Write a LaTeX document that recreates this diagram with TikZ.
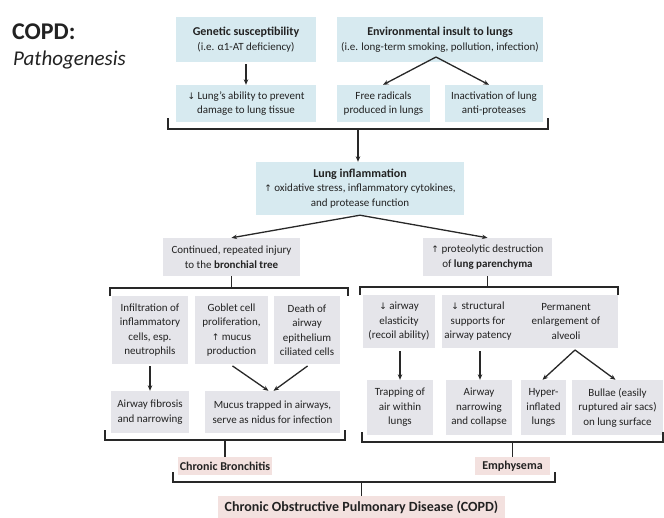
\documentclass[tikz,border=0pt]{standalone}
\usepackage{fontspec}
\setmainfont{Carlito}
\newfontfamily\symfont{DejaVu Sans}
\usetikzlibrary{arrows.meta}
\definecolor{bluebox}{RGB}{215,234,240}
\definecolor{graybox}{RGB}{229,229,234}
\definecolor{pinkbox}{RGB}{243,225,223}
\definecolor{ink}{RGB}{34,34,34}
\definecolor{linec}{RGB}{40,40,40}
\newcommand{\dnarr}{{\symfont\fontsize{9}{10}\selectfont ↓}}
\newcommand{\uparr}{{\symfont\fontsize{9}{10}\selectfont ↑}}
\newcommand{\hd}[1]{{\bfseries\fontsize{12}{14.5}\selectfont #1}}
\tikzset{
  box/.style={inner sep=0pt, align=center, text=ink, font=\fontsize{11}{14.5}\selectfont},
  bbox/.style={box, fill=bluebox},
  gbox/.style={box, fill=graybox},
  pbox/.style={box, fill=pinkbox, font=\bfseries\fontsize{12}{14}\selectfont},
  conn/.style={draw=linec, line width=1.3pt},
  arr/.style={conn, -{Stealth[length=5.5pt,width=4.5pt]}},
}
\begin{document}
\begin{tikzpicture}[x=1pt,y=-1pt]
\fill[white] (0,0) rectangle (664,517);
\useasboundingbox (0,0) rectangle (664,517);
% title
\node[anchor=base west, inner sep=0pt, text=ink, font=\bfseries\fontsize{24}{26}\selectfont] (t1) at (12,39) {COPD:};
\node[anchor=base west, inner sep=0pt, text=ink, font=\itshape\fontsize{21}{24}\selectfont] (t2) at (13,65) {Pathogenesis};
% row 1
\node[bbox, minimum width=140pt, minimum height=45pt] (gen) at (246,39.5) {\hd{Genetic susceptibility}\\(i.e. α1-AT deficiency)};
\node[bbox, minimum width=206pt, minimum height=45pt] (env) at (440,39.5) {\hd{Environmental insult to lungs}\\(i.e. long-term smoking, pollution, infection)};
% row 2
\node[bbox, minimum width=140pt, minimum height=37pt] (lung) at (246,103.5) {\dnarr{} Lung's ability to prevent\\damage to lung tissue};
\node[bbox, minimum width=93pt, minimum height=37pt] (free) at (383.5,103.5) {Free radicals\\produced in lungs};
\node[bbox, minimum width=98pt, minimum height=37pt] (inact) at (494,103.5) {Inactivation of lung\\anti-proteases};
% inflammation
\node[bbox, minimum width=208pt, minimum height=53pt] (infl) at (360,188.5) {\hd{Lung inflammation}\\\uparr{} oxidative stress, inflammatory cytokines,\\and protease function};
% level 2
\node[gbox, minimum width=137pt, minimum height=38pt] (cont) at (231.5,257) {Continued, repeated injury\\to the \textbf{bronchial tree}};
\node[gbox, minimum width=129pt, minimum height=38pt] (prot) at (487.5,257) {\uparr{} proteolytic destruction\\of \textbf{lung parenchyma}};
% level 3 left
\node[gbox, minimum width=76pt, minimum height=68pt] (infil) at (150,330) {Infiltration of\\inflammatory\\cells, esp.\\neutrophils};
\node[gbox, minimum width=73pt, minimum height=68pt] (goblet) at (231.5,330) {Goblet cell\\proliferation,\\\uparr{} mucus\\production};
\node[gbox, minimum width=66pt, minimum height=68pt] (death) at (307,330) {Death of\\airway\\epithelium\\ciliated cells};
% level 3 right
\node[gbox, minimum width=72pt, minimum height=53pt] (elast) at (399,321.5) {\dnarr{} airway\\elasticity\\(recoil ability)};
\node[gbox, minimum width=72pt, minimum height=53pt] (struct) at (478,321.5) {\dnarr{} structural\\supports for\\airway patency};
\node[gbox, minimum width=104pt, minimum height=53pt] (perm) at (566,321.5) {Permanent\\enlargement of\\alveoli};
% level 4 left
\node[gbox, minimum width=78pt, minimum height=42pt] (fib) at (150,412) {Airway fibrosis\\and narrowing};
\node[gbox, minimum width=135pt, minimum height=42pt] (mucus) at (272.5,412) {Mucus trapped in airways,\\serve as nidus for infection};
% level 4 right
\node[gbox, minimum width=66pt, minimum height=55pt] (trap) at (400,407.5) {Trapping of\\air within\\lungs};
\node[gbox, minimum width=66pt, minimum height=55pt] (narrow) at (479,407.5) {Airway\\narrowing\\and collapse};
\node[gbox, minimum width=45pt, minimum height=55pt] (hyper) at (543.5,407.5) {Hyper-\\inflated\\lungs};
\node[gbox, minimum width=91pt, minimum height=55pt] (bullae) at (617.5,407.5) {Bullae (easily\\ruptured air sacs)\\on lung surface};
% outcomes
\node[pbox, minimum width=94pt, minimum height=18pt] (cb) at (225,466) {Chronic Bronchitis};
\node[pbox, minimum width=75pt, minimum height=18pt] (emph) at (512.5,466) {Emphysema};
\node[pbox, minimum width=287pt, minimum height=23pt, font=\bfseries\fontsize{14}{16}\selectfont] (copd) at (361.5,507.5) {Chronic Obstructive Pulmonary Disease (COPD)};
% arrows top
\draw[arr, shorten <=2pt] (gen.south) -- (lung.north);
\coordinate (envm) at (436,57);
\draw[arr] (envm) -- ([xshift=-0.5pt]free.north);
\draw[arr] (envm) -- ([xshift=-5pt]inact.north);
% brace 1
\coordinate (b1l) at (168,118); \coordinate (b1la) at (168,129);
\coordinate (b1r) at (548,118); \coordinate (b1ra) at (548,129);
\coordinate (b1m) at (358,129);
\draw[conn] (b1l) -- (b1la) -- (b1ra) -- (b1r);
\draw[arr] (b1m) -- (b1m |- infl.north);
% inflammation split
\draw[arr] (infl.south) -- (cont.north);
\draw[arr] (infl.south) -- (prot.north);
% brace 2 left
\coordinate (b2l) at (110,296); \coordinate (b2la) at (110,288);
\coordinate (b2r) at (348,296); \coordinate (b2ra) at (348,288);
\draw[conn] (b2l) -- (b2la) -- (b2ra) -- (b2r);
\draw[conn] (cont.south) -- (cont.south |- b2la);
% brace 2 right
\coordinate (b2rl) at (360,295); \coordinate (b2rla) at (360,287);
\coordinate (b2rr) at (618,295); \coordinate (b2rra) at (618,287);
\draw[conn] (b2rl) -- (b2rla) -- (b2rra) -- (b2rr);
\draw[conn] (prot.south) -- (prot.south |- b2rla);
% level 3 arrows
\draw[arr, shorten <=2pt] (infil.south) -- (fib.north);
\draw[arr, shorten <=3pt] ([xshift=-1.5pt]goblet.south) -- ([xshift=-4pt]mucus.north);
\draw[arr, shorten <=3pt] ([xshift=3pt]death.south) -- ([xshift=1pt]mucus.north);
\draw[arr, shorten <=3pt] ([xshift=1pt]elast.south) -- ([xshift=1pt]elast.south |- trap.north);
\draw[arr, shorten <=3pt] ([xshift=2pt]struct.south) -- ([xshift=2pt]struct.south |- narrow.north);
\coordinate (permm) at (575,350);
\draw[arr] (permm) -- ([xshift=-1pt]hyper.north);
\draw[arr] (permm) -- ([xshift=-2pt]bullae.north);
% brace 3 left
\coordinate (b3l) at (105,430); \coordinate (b3la) at (105,440);
\coordinate (b3r) at (345,430); \coordinate (b3ra) at (345,440);
\draw[conn] (b3l) -- (b3la) -- (b3ra) -- (b3r);
\draw[conn] (cb.north |- b3la) -- (cb.north);
% brace 3 right
\coordinate (b3rl) at (362,432); \coordinate (b3rla) at (362,442);
\coordinate (b3rr) at (663,432); \coordinate (b3rra) at (663,442);
\draw[conn] (b3rl) -- (b3rla) -- (b3rra) -- (b3rr);
\draw[conn] (emph.north |- b3rla) -- (emph.north);
% brace 4
\coordinate (b4l) at (173,472); \coordinate (b4la) at (173,482);
\coordinate (b4r) at (555,472); \coordinate (b4ra) at (555,482);
\draw[conn] (b4l) -- (b4la) -- (b4ra) -- (b4r);
\draw[conn] (copd.north |- b4la) -- (copd.north);
\end{tikzpicture}
\end{document}
